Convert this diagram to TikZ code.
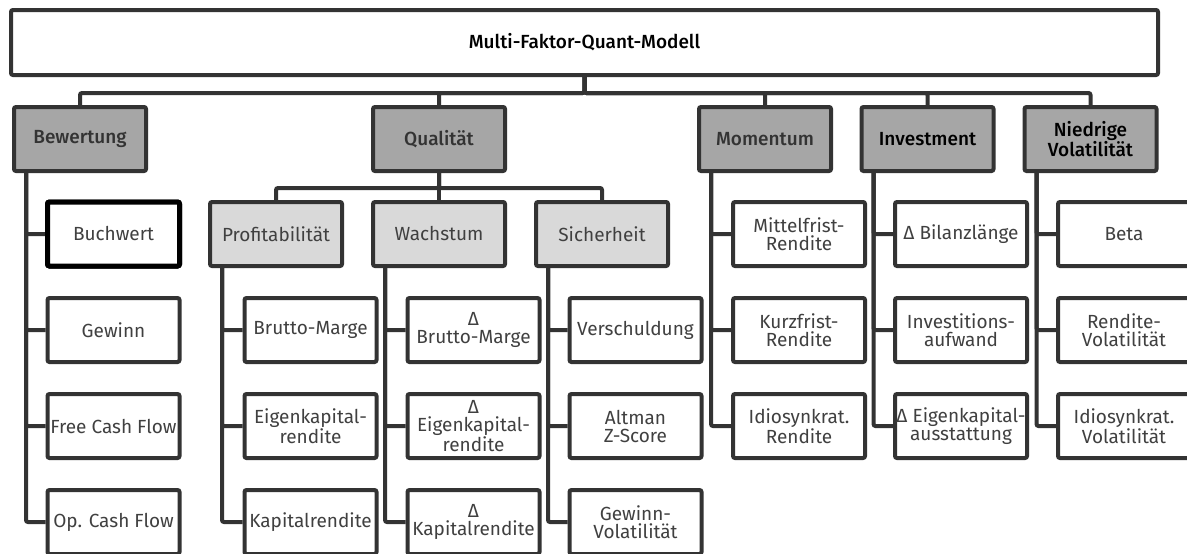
\documentclass[tikz,border=0pt]{standalone}
\usepackage{fontspec}
\setmainfont{Fira Sans}
\newfontfamily\medfont{Fira Sans Medium}
\usetikzlibrary{calc}
\definecolor{bd}{HTML}{333333}
\definecolor{gone}{HTML}{A6A6A6}
\definecolor{gtwo}{HTML}{D9D9D9}
\definecolor{txt}{HTML}{404040}
\definecolor{txthead}{HTML}{333333}
\newcommand\nodefont{\fontsize{19}{18}\selectfont}
\tikzset{
  box/.style={draw=bd, line width=4pt, rounded corners=2pt, minimum width=132pt,
    minimum height=64pt, inner sep=0pt, align=center, font=\nodefont, text=txt},
  lvlone/.style={box, fill=gone, font=\nodefont\medfont, text=txthead},
  lvlonedark/.style={box, fill=gone, font=\nodefont\medfont, text=black},
  lvltwo/.style={box, fill=gtwo},
  leaf/.style={box, fill=white},
  selleaf/.style={leaf, draw=black, line width=5pt},
  conn/.style={draw=bd, line width=4pt, rounded corners=2pt}
}
\begin{document}
\begin{tikzpicture}[x=1pt,y=-1pt]
\useasboundingbox (0,0) rectangle (1187,554);
\clip (0,0) rectangle (1187,554);
\fill[white] (0,0) rectangle (1187,554);

% top
\node[box, minimum width=1147pt, minimum height=65pt, font=\nodefont\medfont, text=black] (top) at (584.5,42.5) {Multi-Faktor-Quant-Modell};

% level 1
\node[lvlone] (bew) at (80,139) {Bewertung};
\node[lvlone] (qual) at (439,139) {Qualität};
\node[lvlone] (mom) at (765,139) {Momentum};
\node[lvlonedark] (inv) at (927.5,139) {Investment};
\node[lvlonedark] (vol) at (1090.5,139) {Niedrige\\Volatilität};

% level 2
\node[lvltwo] (prof) at (276,234) {Profitabilität};
\node[lvltwo] (wach) at (439,234) {Wachstum};
\node[lvltwo] (sich) at (602,234) {Sicherheit};

% Bewertung leaves
\node[selleaf] (b1) at (113.5,234) {Buchwert};
\node[leaf] (b2) at (113.5,330) {Gewinn};
\node[leaf] (b3) at (113.5,426) {Free Cash Flow};
\node[leaf] (b4) at (113.5,522) {Op. Cash Flow};

% Profitabilitaet leaves
\node[leaf] (p1) at (310.5,330) {Brutto-Marge};
\node[leaf] (p2) at (310.5,426) {Eigenkapital-\\rendite};
\node[leaf] (p3) at (310.5,522) {Kapitalrendite};

% Wachstum leaves
\node[leaf] (w1) at (473.5,330) {Δ\\Brutto-Marge};
\node[leaf] (w2) at (473.5,426) {Δ\\Eigenkapital-\\rendite};
\node[leaf] (w3) at (473.5,522) {Δ\\Kapitalrendite};

% Sicherheit leaves
\node[leaf] (s1) at (635.5,330) {Verschuldung};
\node[leaf] (s2) at (635.5,426) {Altman\\Z-Score};
\node[leaf] (s3) at (635.5,522) {Gewinn-\\Volatilität};

% Momentum leaves
\node[leaf] (m1) at (799,234) {Mittelfrist-\\Rendite};
\node[leaf] (m2) at (799,330) {Kurzfrist-\\Rendite};
\node[leaf] (m3) at (799,426) {Idiosynkrat.\\Rendite};

% Investment leaves
\node[leaf] (i1) at (961,234) {Δ Bilanzlänge};
\node[leaf] (i2) at (961,330) {Investitions-\\aufwand};
\node[leaf] (i3) at (961,426) {Δ Eigenkapital-\\ausstattung};

% Niedrige Volatilitaet leaves
\node[leaf] (v1) at (1124,234) {Beta};
\node[leaf] (v2) at (1124,330) {Rendite-\\Volatilität};
\node[leaf] (v3) at (1124,426) {Idiosynkrat.\\Volatilität};

% top connectors
\foreach \c in {bew,qual,mom,inv,vol}
  \draw[conn] (top.south) -- ++(0,16) -| (\c.north);

% Qualitaet connectors
\foreach \c in {prof,wach,sich}
  \draw[conn] (qual.south) -- ++(0,15) -| (\c.north);

% leaf connectors
\foreach \p/\list in {bew/{b1,b2,b3,b4}, prof/{p1,p2,p3}, wach/{w1,w2,w3}, sich/{s1,s2,s3}, mom/{m1,m2,m3}, inv/{i1,i2,i3}, vol/{v1,v2,v3}}
  \foreach \c in \list
    \draw[conn] ($(\p.south)+(-54,0)$) |- (\c.west);

% redraw selected border on top
\node[selleaf] at (b1) {Buchwert};
\end{tikzpicture}
\end{document}
